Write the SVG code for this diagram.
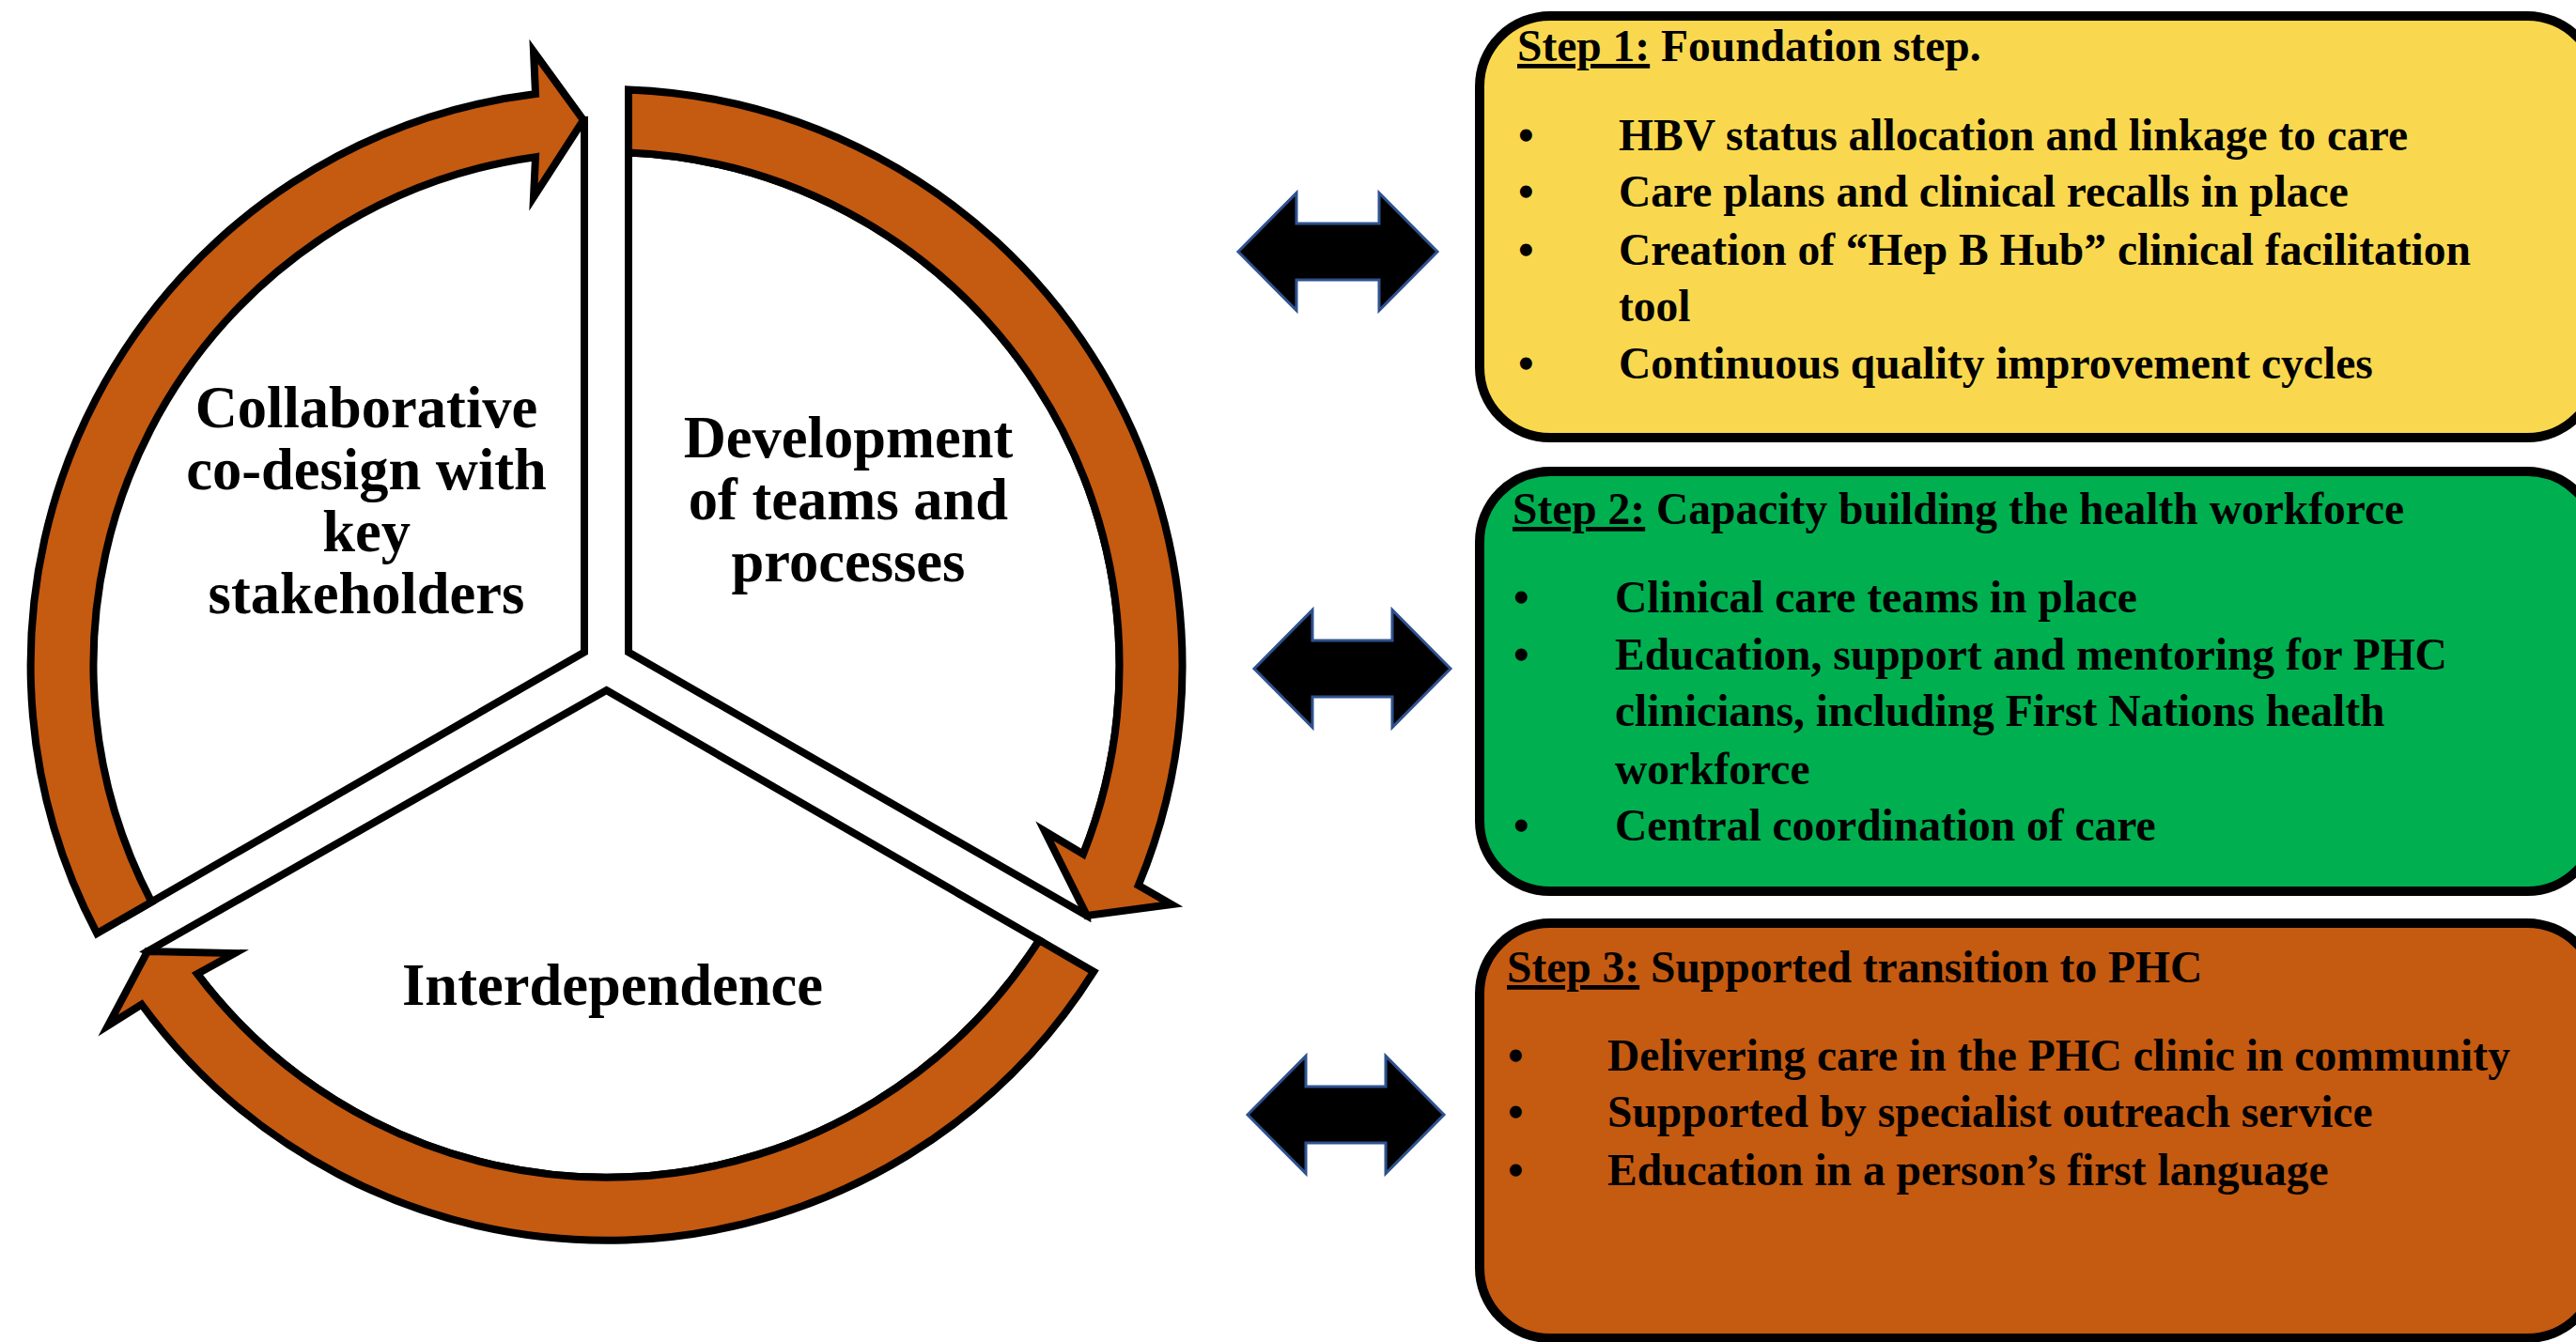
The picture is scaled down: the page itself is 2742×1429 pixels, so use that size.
<svg xmlns="http://www.w3.org/2000/svg" width="2742" height="1429" viewBox="0 0 2742 1429">
<defs>
<style>
.sector{fill:#fff;stroke:#000;stroke-width:8;stroke-linejoin:miter}
.ring{fill:#C55A11;stroke:#000;stroke-width:8;stroke-linejoin:miter;stroke-miterlimit:10}
.ct{font-family:"Liberation Serif","Times New Roman",serif;font-weight:bold;font-size:62.5px;text-anchor:middle;fill:#000}
.bt{font-family:"Liberation Serif","Times New Roman",serif;font-weight:bold;font-size:47.5px;fill:#000}
.box{stroke:#000;stroke-width:10}
.dbl{fill:#000;stroke:#2F528F;stroke-width:3;stroke-linejoin:miter}
.ul{text-decoration:underline}
</style>
</defs>
<rect width="2742" height="1429" fill="#fff"/>
<g id="cycle">
<g id="sector-left"><path class="sector" d="M622,694.4 L622,128 A580,580 0 0 0 133.1,976.7 Z"/></g>
<g id="sector-right"><path class="sector" d="M669,694.4 L669,162.5 A546,546 0 0 1 1153,909.5 L1157,975 Z"/></g>
<g id="sector-bottom"><path class="sector" d="M645.5,735 L1106.1,1001.1 A546,546 0 0 1 210,1037 L157,1013 Z"/></g>
<g id="arrow-left"><path class="ring" d="M103.2,993.9 A613,613 0 0 1 570,100 L568,55 L621,128 L568,210 L570,167.2 A546,546 0 0 0 161.3,960.4 Z"/></g>
<g id="arrow-right"><path class="ring" d="M669,95.5 A613,613 0 0 1 1211.8,942.8 L1247,963 L1157,975 L1112,885 L1153,909.5 A546,546 0 0 0 669,162.5 Z"/></g>
<g id="arrow-bottom"><path class="ring" d="M1164.2,1034.7 A613,613 0 0 1 150.7,1069.5 L115,1092 L157,1013 L250,1015 L210,1037 A546,546 0 0 0 1106.1,1001.1 Z"/></g>
<g id="label-codesign">
<text class="ct" x="390" y="455">Collaborative</text>
<text class="ct" x="390" y="521">co-design with</text>
<text class="ct" x="390" y="587">key</text>
<text class="ct" x="390" y="653">stakeholders</text>
</g>
<g id="label-development">
<text class="ct" x="903" y="487">Development</text>
<text class="ct" x="903" y="553">of teams and</text>
<text class="ct" x="903" y="619">processes</text>
</g>
<g id="label-interdependence">
<text class="ct" x="652" y="1070">Interdependence</text>
</g>
</g>
<g id="step1">
<rect class="box" x="1575" y="17" width="1190" height="449" rx="75" ry="75" fill="#F9D84F"/>
<text class="bt" x="1615" y="65"><tspan class="ul">Step 1:</tspan> Foundation step.</text>
<text class="bt" x="1616" y="160">•</text>
<text class="bt" x="1723" y="160">HBV status allocation and linkage to care</text>
<text class="bt" x="1616" y="220">•</text>
<text class="bt" x="1723" y="220">Care plans and clinical recalls in place</text>
<text class="bt" x="1616" y="282">•</text>
<text class="bt" x="1723" y="282">Creation of “Hep B Hub” clinical facilitation</text>
<text class="bt" x="1723" y="342">tool</text>
<text class="bt" x="1616" y="403">•</text>
<text class="bt" x="1723" y="403">Continuous quality improvement cycles</text>
</g>
<g id="step2">
<rect class="box" x="1575" y="502" width="1190" height="447" rx="75" ry="75" fill="#00B050"/>
<text class="bt" x="1610" y="558"><tspan class="ul">Step 2:</tspan> Capacity building the health workforce</text>
<text class="bt" x="1611" y="652">•</text>
<text class="bt" x="1719" y="652">Clinical care teams in place</text>
<text class="bt" x="1611" y="713">•</text>
<text class="bt" x="1719" y="713">Education, support and mentoring for PHC</text>
<text class="bt" x="1719" y="773">clinicians, including First Nations health</text>
<text class="bt" x="1719" y="835">workforce</text>
<text class="bt" x="1611" y="895">•</text>
<text class="bt" x="1719" y="895">Central coordination of care</text>
</g>
<g id="step3">
<rect class="box" x="1575" y="983" width="1190" height="442" rx="75" ry="75" fill="#C55A11"/>
<text class="bt" x="1604" y="1046"><tspan class="ul">Step 3:</tspan> Supported transition to PHC</text>
<text class="bt" x="1605" y="1140">•</text>
<text class="bt" x="1711" y="1140">Delivering care in the PHC clinic in community</text>
<text class="bt" x="1605" y="1200">•</text>
<text class="bt" x="1711" y="1200">Supported by specialist outreach service</text>
<text class="bt" x="1605" y="1262">•</text>
<text class="bt" x="1711" y="1262">Education in a person’s first language</text>
</g>
<g id="connectors">
<polygon class="dbl" points="1318,268 1380,205.5 1380,238 1468,238 1468,205.5 1530,268 1468,330.5 1468,298 1380,298 1380,330.5"/>
<polygon class="dbl" points="1335,712 1397,649.5 1397,682 1482,682 1482,649.5 1544,712 1482,774.5 1482,742 1397,742 1397,774.5"/>
<polygon class="dbl" points="1328,1187 1390,1124.5 1390,1157 1475,1157 1475,1124.5 1537,1187 1475,1249.5 1475,1217 1390,1217 1390,1249.5"/>
</g>
</svg>
